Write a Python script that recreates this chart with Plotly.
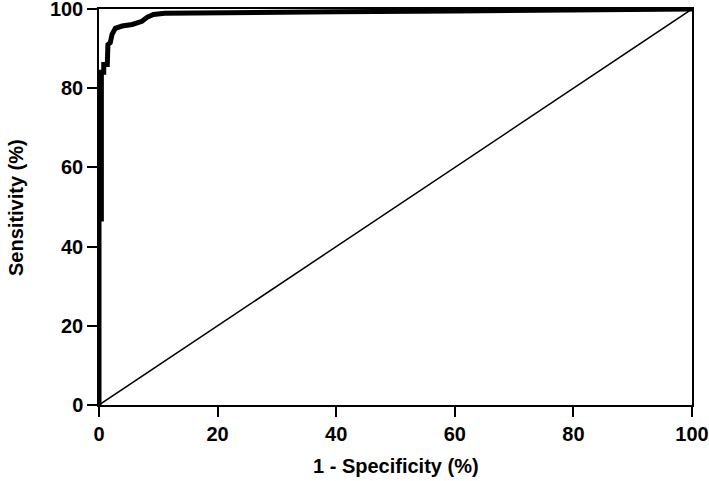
import plotly.graph_objects as go

# ROC curve values (1 - specificity %, sensitivity %)
fpr = [0, 0, 0.4, 0.4, 0.8, 0.8, 1.4, 1.5, 1.9, 2.2, 2.75, 3.9, 5.6, 6.5, 7.25, 8.1, 9.2, 11.1, 20, 40, 60, 80, 100]
tpr = [0, 47, 47, 84, 84, 86, 86, 91, 91.5, 93.6, 95.1, 95.7, 96.1, 96.4, 96.9, 97.9, 98.6, 98.9, 99.1, 99.3, 99.5, 99.7, 100]

# reference (chance) line
ref_x = [0, 100]
ref_y = [0, 100]

tick_vals = [0, 20, 40, 60, 80, 100]
tick_text = ["0", "20", "40", "60", "80", "100"]

x_title = "1 - Specificity (%)"
y_title = "Sensitivity (%)"

FONT = "Liberation Sans, Arial, Helvetica, sans-serif"

fig = go.Figure()
fig.add_trace(go.Scatter(x=ref_x, y=ref_y, mode="lines",
                         line=dict(color="black", width=1.5),
                         showlegend=False, hoverinfo="skip"))
fig.add_trace(go.Scatter(x=fpr, y=tpr, mode="lines",
                         line=dict(color="black", width=5),
                         showlegend=False, cliponaxis=False))

axis_common = dict(
    range=[0, 100], automargin=False,
    showgrid=False, zeroline=False,
    showline=True, linecolor="black", linewidth=1.5, mirror=True,
    ticks="outside", ticklen=10, tickwidth=1.5, tickcolor="black",
    tickvals=tick_vals, ticktext=tick_text, ticklabeloverflow="allow",
    tickfont=dict(family=FONT, size=20, color="black", weight="bold"),
)

fig.update_layout(
    width=709, height=481,
    margin=dict(l=99, r=17, t=9, b=76),
    paper_bgcolor="white", plot_bgcolor="white",
    xaxis=dict(**axis_common),
    yaxis=dict(**axis_common),
    annotations=[
        dict(text=x_title, xref="paper", yref="paper", x=0.5, y=-0.155,
             xanchor="center", yanchor="middle", showarrow=False,
             font=dict(family=FONT, size=20, color="black", weight="bold")),
        dict(text=y_title, xref="paper", yref="paper", x=-0.14, y=0.5,
             xanchor="center", yanchor="middle", showarrow=False, textangle=-90,
             font=dict(family=FONT, size=20, color="black", weight="bold")),
    ],
)

fig.write_html("out.html", config={"displayModeBar": False},
               post_script="document.body.style.margin='0';document.body.style.overflow='hidden';")
